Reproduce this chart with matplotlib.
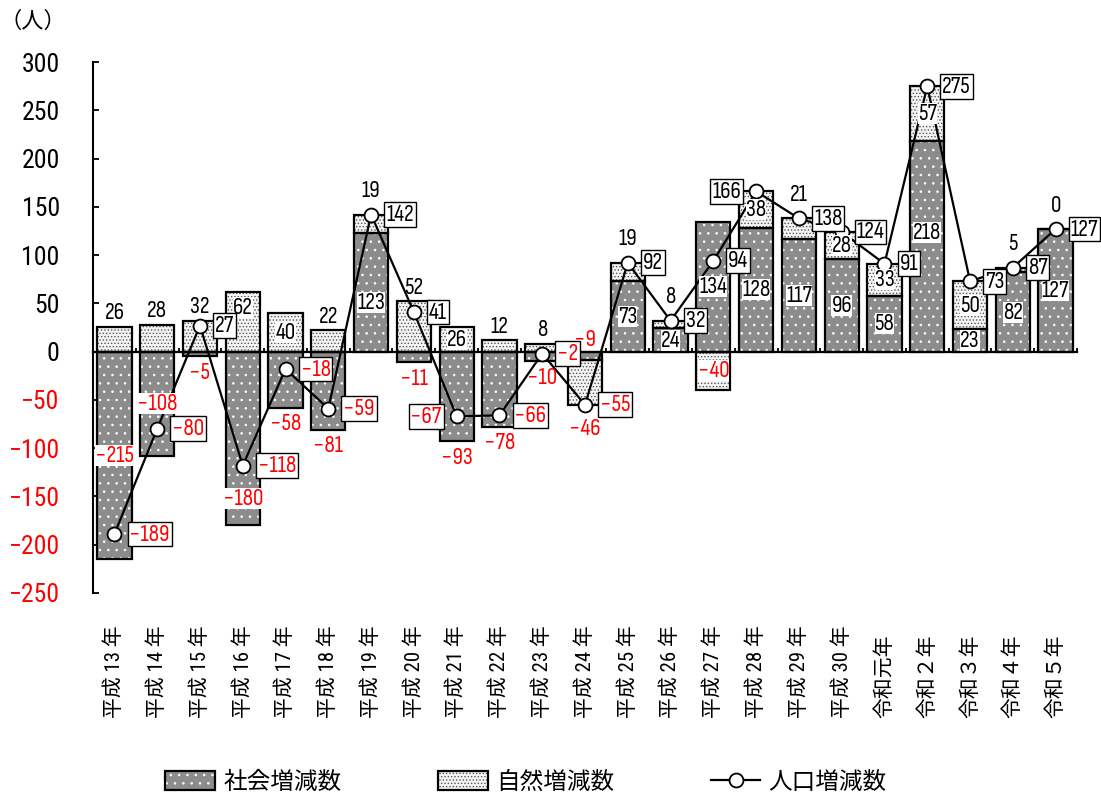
import numpy as np
import matplotlib.pyplot as plt
from matplotlib import font_manager
from matplotlib.patches import Patch
from matplotlib.lines import Line2D
from matplotlib.legend_handler import HandlerTuple

years = ['平成 13 年', '平成 14 年', '平成 15 年', '平成 16 年', '平成 17 年',
         '平成 18 年', '平成 19 年', '平成 20 年', '平成 21 年', '平成 22 年',
         '平成 23 年', '平成 24 年', '平成 25 年', '平成 26 年', '平成 27 年',
         '平成 28 年', '平成 29 年', '平成 30 年', '令和元年', '令和２年',
         '令和３年', '令和４年', '令和５年']
social = [-215, -108, -5, -180, -58, -81, 123, -11, -93, -78, -10, -9,
          73, 24, 134, 128, 117, 96, 58, 218, 23, 82, 127]
natural = [26, 28, 32, 62, 40, 22, 19, 52, 26, 12, 8, -46,
           19, 8, -40, 38, 21, 28, 33, 57, 50, 5, 0]
total = [-189, -80, 27, -118, -18, -59, 142, 41, -67, -66, -2, -55,
         92, 32, 94, 166, 138, 124, 91, 275, 73, 87, 127]
yticks = list(range(-250, 301, 50))

# where the value labels sit
soc_where = ['in', 'in', 'out', 'in', 'out', 'out', 'in', 'out', 'out', 'out',
             'out', 'up'] + ['in'] * 11
nat_where = ['out', 'out', 'out', 'in', 'in', 'out', 'out', 'out', 'in', 'out',
             'out', 'out', 'out', 'out', 'in', 'in', 'out', 'in', 'in', 'in',
             'in', 'out', 'out']
tot_left = [8, 15]
soc_shift = {3: -60, 6: -10, 19: 14}   # px
nat_shift = {3: 14}

# narrow fonts for the numbers, CJK font for the Japanese
names = set(f.name for f in font_manager.fontManager.ttflist)
num_font = 'Roboto Condensed' if 'Roboto Condensed' in names else 'Liberation Sans'
lab_font = 'Sofia Sans Condensed' if 'Sofia Sans Condensed' in names else num_font
plt.rcParams['font.family'] = [num_font, 'Noto Sans CJK JP', 'DejaVu Sans']
LAB_FAM = [lab_font, num_font, 'DejaVu Sans']
plt.rcParams['hatch.linewidth'] = 0.6

GRAY = '#8c8c8c'
DOT = '#555555'
NFACE = '#f4f4f4'
RED = '#ff0000'
PT = 72 / 100  # px -> pt


def fmt(v):
    return '\u2212%d' % -v if v < 0 else '%d' % v


fig = plt.figure(figsize=(11.01, 7.94), dpi=100)
ax = fig.add_axes([93 / 1101, 201 / 794, 984 / 1101, 531 / 794])

x = np.arange(len(years))
soc = np.array(social)
nat = np.array(natural)
tot = np.array(total)
same = (nat >= 0) == (soc >= 0)
nat_bottom = np.where(same, soc, 0)

ax.bar(x, soc, 0.8, color=GRAY, edgecolor='white', hatch='..', lw=0, zorder=2)
ax.bar(x, nat, 0.8, bottom=nat_bottom, color=NFACE, edgecolor=DOT,
       hatch='.....', lw=0, zorder=2)
ax.bar(x, soc, 0.8, fill=False, edgecolor='black', lw=1.6, zorder=2.2)
ax.bar(x, nat, 0.8, bottom=nat_bottom, fill=False, edgecolor='black',
       lw=1.6, zorder=2.2)

ax.plot(x, tot, color='black', lw=1.6, marker='o', ms=10, mfc='white',
        mec='black', mew=1.3, zorder=4)

white_box = dict(boxstyle='square,pad=0.0', fc='white', ec='none')
line_box = dict(boxstyle='square,pad=0.08', fc='white', ec='black', lw=1.0)
fs = 17

for i in x:
    # social increase/decrease
    s = soc[i]
    c = RED if s < 0 else 'black'
    w = soc_where[i]
    if w == 'in':
        y0, dy, bb = s / 2, soc_shift.get(i, 0), white_box
    elif w == 'out':
        y0, dy, bb = s, 16 * np.sign(s), None
    else:
        y0, dy, bb = 0, 12, None
    ax.annotate(fmt(s), (i, y0), xytext=(0, dy * PT), textcoords='offset points',
                ha='center', va='center', color=c, fontsize=fs, bbox=bb,
                family=LAB_FAM, zorder=5)

    # natural increase/decrease
    n = nat[i]
    b = nat_bottom[i]
    c = RED if n < 0 else 'black'
    if nat_where[i] == 'in':
        y0, dy, bb = b + n / 2, nat_shift.get(i, 0), white_box
    else:
        end = b + n
        gap = 24 if end == tot[i] else 14
        y0, dy, bb = end, gap * (1 if n >= 0 else -1), None
    ax.annotate(fmt(n), (i, y0), xytext=(0, dy * PT), textcoords='offset points',
                ha='center', va='center', color=c, fontsize=fs, bbox=bb,
                family=LAB_FAM, zorder=5)

    # total
    t = tot[i]
    left = i in tot_left
    ax.annotate(fmt(t), (i, t), xytext=((-15 if left else 15) * PT, 0),
                textcoords='offset points', ha='right' if left else 'left',
                va='center', color=RED if t < 0 else 'black', fontsize=fs,
                bbox=line_box, family=LAB_FAM, zorder=6)

    ax.annotate(years[i], (i, 0), xycoords=('data', 'axes fraction'),
                xytext=(0, -125 * PT), textcoords='offset points',
                rotation=90, ha='center', va='bottom', fontsize=15)

ax.set_xlim(-0.5, 22.5)
ax.set_ylim(-250, 300)
ax.set_yticks(yticks)
ax.set_xticks(np.arange(-0.5, 23, 1))
ax.tick_params(axis='y', direction='in', length=4.5, width=1.3, labelsize=18.5, pad=24)
ax.tick_params(axis='x', direction='in', length=3, width=1.3, labelbottom=False)
for lbl, v in zip(ax.get_yticklabels(), yticks):
    lbl.set_color(RED if v < 0 else 'black')

for side in ['top', 'right']:
    ax.spines[side].set_visible(False)
ax.spines['bottom'].set_position(('data', 0))
ax.spines['bottom'].set_linewidth(1.6)
ax.spines['bottom'].set_zorder(3)
ax.spines['left'].set_linewidth(1.5)

fig.text(33 / 1101, 1 - 22 / 794, '（人）', ha='center', va='center', fontsize=16)

soc_h = (Patch(fc=GRAY, ec='white', hatch='..', lw=0),
         Patch(fill=False, ec='black', lw=1.6))
nat_h = (Patch(fc=NFACE, ec=DOT, hatch='.....', lw=0),
         Patch(fill=False, ec='black', lw=1.6))
tot_h = Line2D([], [], color='black', lw=1.6, marker='o', ms=10, mfc='white',
               mec='black', mew=1.3)
fig.legend([soc_h, nat_h, tot_h], ['社会増減数', '自然増減数', '人口増減数'],
           handler_map={tuple: HandlerTuple(ndivide=1, pad=0)},
           loc='center', bbox_to_anchor=(526 / 1101, 12 / 794), ncol=3,
           frameon=False, fontsize=17, handlelength=2.1, handleheight=0.85,
           handletextpad=0.35, columnspacing=4.1)

fig.savefig('out.png', dpi=100)
